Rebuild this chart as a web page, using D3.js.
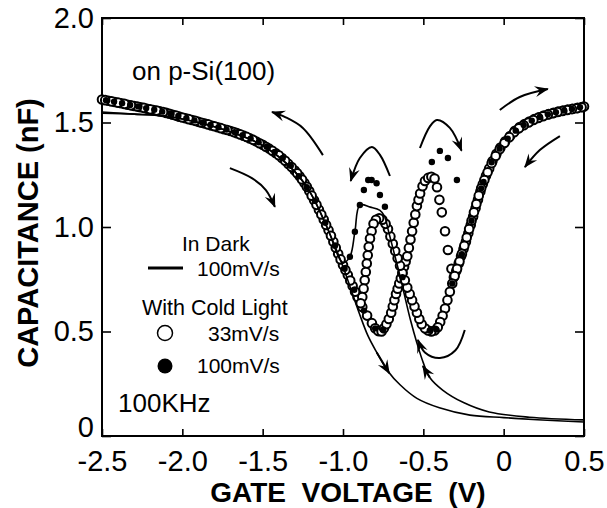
<!DOCTYPE html>
<html>
<head>
<meta charset="utf-8">
<script src="https://cdn.jsdelivr.net/npm/d3@7"></script>
<style>
  body { margin: 0; background: #fff; }
  text { font-family: "Liberation Sans", Arial, sans-serif; fill: #000; }
</style>
</head>
<body>
<div id="chart"></div>
<script>
// tick values and labels
var xTicks = [-2.5, -2.0, -1.5, -1.0, -0.5, 0, 0.5];
var xTickLabels = ["-2.5", "-2.0", "-1.5", "-1.0", "-0.5", "0", "0.5"];
var yTicks = [0, 0.5, 1.0, 1.5, 2.0];
var yTickLabels = ["0", "0.5", "1.0", "1.5", "2.0"];

// with cold light, 33mV/s, forward sweep [V, nF]
var light33Fwd = [
  [-2.50, 1.610], [-2.46, 1.604], [-2.42, 1.598], [-2.38, 1.592], [-2.34, 1.585], [-2.30, 1.579],
  [-2.26, 1.573], [-2.22, 1.566], [-2.18, 1.560], [-2.14, 1.553], [-2.10, 1.546], [-2.06, 1.537],
  [-2.02, 1.528], [-1.98, 1.520], [-1.94, 1.512], [-1.90, 1.503], [-1.86, 1.495], [-1.82, 1.486],
  [-1.78, 1.477], [-1.74, 1.468], [-1.70, 1.459], [-1.66, 1.449], [-1.62, 1.437], [-1.58, 1.424],
  [-1.54, 1.409], [-1.50, 1.393], [-1.46, 1.375], [-1.42, 1.354], [-1.38, 1.330], [-1.34, 1.302],
  [-1.30, 1.270], [-1.27, 1.243], [-1.24, 1.211], [-1.21, 1.172], [-1.18, 1.128], [-1.15, 1.083],
  [-1.12, 1.036], [-1.09, 0.985], [-1.06, 0.930], [-1.03, 0.872], [-1.00, 0.818], [-0.97, 0.770],
  [-0.94, 0.718], [-0.91, 0.665], [-0.88, 0.617], [-0.85, 0.576], [-0.82, 0.540], [-0.80, 0.515],
  [-0.78, 0.502], [-0.76, 0.500], [-0.745, 0.515], [-0.73, 0.535], [-0.715, 0.560], [-0.70, 0.590],
  [-0.69, 0.620], [-0.68, 0.650], [-0.67, 0.680], [-0.66, 0.705], [-0.65, 0.730], [-0.64, 0.755],
  [-0.63, 0.780], [-0.62, 0.810], [-0.61, 0.835], [-0.60, 0.860], [-0.59, 0.900], [-0.58, 0.940],
  [-0.57, 0.980], [-0.56, 1.020], [-0.55, 1.060], [-0.54, 1.100], [-0.53, 1.130], [-0.52, 1.160],
  [-0.505, 1.195], [-0.49, 1.220], [-0.47, 1.235], [-0.45, 1.240], [-0.43, 1.232], [-0.415, 1.190],
  [-0.40, 1.130], [-0.385, 1.070], [-0.365, 0.980], [-0.347, 0.890], [-0.325, 0.800], [-0.31, 0.760],
  [-0.295, 0.790], [-0.28, 0.825], [-0.265, 0.860], [-0.25, 0.895], [-0.235, 0.930], [-0.22, 0.970],
  [-0.205, 1.010], [-0.19, 1.050], [-0.175, 1.090], [-0.16, 1.130], [-0.145, 1.170], [-0.13, 1.205],
  [-0.11, 1.245], [-0.09, 1.280], [-0.07, 1.315], [-0.045, 1.350], [-0.02, 1.380], [0.01, 1.410],
  [0.04, 1.435], [0.07, 1.460], [0.10, 1.478], [0.13, 1.493], [0.16, 1.505], [0.19, 1.516],
  [0.22, 1.525], [0.25, 1.533], [0.28, 1.540], [0.31, 1.546], [0.34, 1.552], [0.37, 1.557],
  [0.40, 1.562], [0.43, 1.566], [0.46, 1.570], [0.49, 1.574], [0.50, 1.576]
];

// with cold light, 33mV/s, reverse sweep [V, nF]
var light33Rev = [
  [0.485, 1.573], [0.455, 1.568], [0.425, 1.564], [0.395, 1.560], [0.365, 1.555], [0.335, 1.550],
  [0.305, 1.544], [0.275, 1.538], [0.245, 1.530], [0.215, 1.522], [0.185, 1.512], [0.155, 1.500],
  [0.125, 1.487], [0.095, 1.472], [0.065, 1.453], [0.035, 1.430], [0.005, 1.402], [-0.025, 1.372],
  [-0.05, 1.340], [-0.075, 1.305], [-0.10, 1.262], [-0.12, 1.225], [-0.14, 1.185], [-0.155, 1.150],
  [-0.17, 1.110], [-0.185, 1.070], [-0.20, 1.030], [-0.215, 0.990], [-0.23, 0.950], [-0.245, 0.910],
  [-0.26, 0.872], [-0.275, 0.835], [-0.29, 0.800], [-0.305, 0.765], [-0.32, 0.730], [-0.335, 0.690],
  [-0.35, 0.650], [-0.365, 0.610], [-0.38, 0.575], [-0.395, 0.545], [-0.41, 0.520], [-0.43, 0.505],
  [-0.45, 0.500], [-0.47, 0.505], [-0.49, 0.515], [-0.51, 0.535], [-0.525, 0.560], [-0.54, 0.590],
  [-0.555, 0.620], [-0.57, 0.650], [-0.585, 0.680], [-0.60, 0.710], [-0.615, 0.745], [-0.63, 0.780],
  [-0.645, 0.815], [-0.66, 0.850], [-0.675, 0.885], [-0.69, 0.920], [-0.705, 0.955], [-0.72, 0.990],
  [-0.735, 1.015], [-0.755, 1.035], [-0.775, 1.042], [-0.795, 1.035], [-0.81, 1.015], [-0.822, 0.980],
  [-0.832, 0.945], [-0.84, 0.905], [-0.846, 0.865], [-0.852, 0.825], [-0.858, 0.785], [-0.865, 0.745],
  [-0.872, 0.705], [-0.88, 0.665], [-0.89, 0.635], [-0.925, 0.690], [-0.955, 0.744], [-0.985, 0.794],
  [-1.015, 0.845], [-1.045, 0.901], [-1.075, 0.958], [-1.105, 1.010], [-1.135, 1.060], [-1.165, 1.106],
  [-1.195, 1.150], [-1.225, 1.192], [-1.255, 1.227], [-1.285, 1.257], [-1.32, 1.287], [-1.36, 1.317],
  [-1.40, 1.343], [-1.44, 1.365], [-1.48, 1.384], [-1.52, 1.401], [-1.56, 1.417], [-1.60, 1.431],
  [-1.64, 1.443], [-1.68, 1.454], [-1.72, 1.464], [-1.76, 1.473], [-1.80, 1.482], [-1.84, 1.491],
  [-1.88, 1.499], [-1.92, 1.508], [-1.96, 1.516], [-2.00, 1.524], [-2.04, 1.533], [-2.08, 1.542],
  [-2.12, 1.550], [-2.16, 1.557], [-2.20, 1.563], [-2.24, 1.570], [-2.28, 1.576], [-2.32, 1.582],
  [-2.36, 1.589], [-2.40, 1.595], [-2.44, 1.601], [-2.48, 1.607]
];

// with cold light, 100mV/s (filled dots) [V, nF]
var light100 = [
  [-2.475, 1.607], [-2.425, 1.600], [-2.375, 1.592], [-2.325, 1.584], [-2.275, 1.577], [-2.225, 1.569],
  [-2.175, 1.561], [-2.125, 1.552], [-2.075, 1.543], [-2.025, 1.531], [-1.975, 1.520], [-1.925, 1.510],
  [-1.875, 1.499], [-1.825, 1.488], [-1.775, 1.477], [-1.725, 1.466], [-1.675, 1.454], [-1.625, 1.439],
  [-1.575, 1.423], [-1.525, 1.405], [-1.475, 1.384], [-1.425, 1.359], [-1.375, 1.330], [-1.325, 1.293],
  [-1.275, 1.243], [-1.225, 1.190], [-1.175, 1.125], [-1.11, 1.020], [-1.05, 0.910], [-0.99, 0.800],
  [-0.93, 0.700], [-0.87, 0.600], [-0.80, 0.515], [-0.75, 0.510], [-0.63, 0.760], [-0.46, 0.505],
  [-0.42, 0.510], [-0.32, 0.730], [-0.26, 0.870], [-0.20, 1.030], [-0.14, 1.185],
  [-0.125, 1.215], [-0.075, 1.310], [-0.025, 1.375], [0.025, 1.423], [0.075, 1.461], [0.125, 1.488],
  [0.175, 1.509], [0.225, 1.526], [0.275, 1.539], [0.325, 1.549], [0.375, 1.557], [0.425, 1.565],
  [0.475, 1.573],
  [-0.957, 0.858], [-0.926, 0.977], [-0.895, 1.105], [-0.870, 1.177], [-0.843, 1.225], [-0.822, 1.225],
  [-0.791, 1.209], [-0.770, 1.153], [-0.739, 1.097],
  [-0.447, 1.311], [-0.397, 1.364], [-0.347, 1.330], [-0.291, 1.225]
];

// in dark, 100mV/s, forward and reverse sweeps [V, nF]
var darkFwd = [
  [-2.50, 1.545], [-2.30, 1.540], [-2.10, 1.530], [-1.90, 1.500], [-1.70, 1.455], [-1.50, 1.390],
  [-1.30, 1.265], [-1.20, 1.160], [-1.10, 1.000], [-1.00, 0.810], [-0.90, 0.590], [-0.845, 0.480],
  [-0.79, 0.400], [-0.72, 0.310], [-0.645, 0.245], [-0.54, 0.180], [-0.40, 0.135], [-0.21, 0.100],
  [0.00, 0.088], [0.21, 0.078], [0.50, 0.067]
];
var darkRev = [
  [0.50, 0.077], [0.16, 0.090], [-0.09, 0.115], [-0.25, 0.160], [-0.38, 0.220], [-0.46, 0.280],
  [-0.50, 0.350], [-0.54, 0.445], [-0.58, 0.555], [-0.61, 0.650], [-0.65, 0.780], [-0.69, 0.900],
  [-0.72, 0.990], [-0.74, 1.050], [-0.77, 1.080], [-0.83, 1.095], [-0.895, 1.105], [-0.926, 0.977],
  [-0.957, 0.858], [-1.00, 0.830], [-1.10, 1.000], [-1.20, 1.160], [-1.30, 1.265], [-1.50, 1.390],
  [-1.70, 1.455], [-1.90, 1.500], [-2.10, 1.530], [-2.30, 1.540], [-2.50, 1.550]
];

// sweep direction arrows [V, nF]
var sweepArrows = [
  [[-1.704, 1.282], [-1.567, 1.234], [-1.48, 1.177], [-1.424, 1.096]],
  [[-1.125, 1.344], [-1.25, 1.474], [-1.36, 1.526], [-1.442, 1.550]],
  [[-0.708, 1.244], [-0.77, 1.345], [-0.82, 1.383], [-0.895, 1.330], [-0.952, 1.220]],
  [[-0.521, 1.378], [-0.46, 1.480], [-0.416, 1.512], [-0.335, 1.474], [-0.262, 1.365]],
  [[-0.024, 1.560], [0.10, 1.622], [0.275, 1.660]],
  [[0.35, 1.435], [0.225, 1.368], [0.132, 1.287]],
  [[-0.242, 0.507], [-0.30, 0.410], [-0.397, 0.373], [-0.49, 0.400], [-0.534, 0.460]],
  [[-0.79, 0.400], [-0.712, 0.300]],
  [[-0.46, 0.280], [-0.503, 0.335]]
];

// set the dimensions and margins of the graph
var margin = { top: 18, right: 23, bottom: 72, left: 102 },
  width = 607 - margin.left - margin.right,
  height = 508 - margin.top - margin.bottom;

var svg = d3.select("#chart")
  .append("svg")
  .attr("width", 607)
  .attr("height", 508)
  .append("g")
  .attr("transform", "translate(" + margin.left + "," + margin.top + ")");

var x = d3.scaleLinear().domain([-2.5, 0.5]).range([0, width]);
var y = d3.scaleLinear().domain([0, 2.0]).range([height, 0]);

// arrowhead marker
svg.append("defs").append("marker")
  .attr("id", "head")
  .attr("markerUnits", "userSpaceOnUse")
  .attr("viewBox", "-14 -6 16 12")
  .attr("markerWidth", 16)
  .attr("markerHeight", 12)
  .attr("refX", 0)
  .attr("refY", 0)
  .attr("orient", "auto")
  .append("path")
  .attr("d", "M1,0 L-13,-5.5 L-8,0 L-13,5.5 Z")
  .attr("fill", "#000");

// axes, ticks pointing inward
function styleAxis(g) {
  g.select(".domain").remove();
  g.selectAll(".tick line").attr("stroke", "#000").attr("stroke-width", 1.6);
  g.selectAll("text").attr("font-family", "'Liberation Sans', Arial, sans-serif").attr("font-size", 29).attr("fill", "#000");
}

svg.append("g")
  .attr("transform", "translate(0," + height + ")")
  .call(d3.axisBottom(x).tickValues(xTicks).tickFormat(function (d, i) { return xTickLabels[i]; })
    .tickSizeInner(-7).tickSizeOuter(0).tickPadding(14))
  .call(styleAxis);

svg.append("g")
  .call(d3.axisLeft(y).tickValues(yTicks).tickFormat(function (d, i) { return yTickLabels[i]; })
    .tickSizeInner(-9).tickSizeOuter(0).tickPadding(8))
  .call(styleAxis)
  .selectAll("text")
  .attr("dy", function (d) { return d === 0 ? "0" : "0.32em"; });

svg.append("g")
  .call(d3.axisTop(x).tickValues(xTicks).tickFormat("").tickSizeInner(-7).tickSizeOuter(0))
  .call(styleAxis);

svg.append("g")
  .attr("transform", "translate(" + width + ",0)")
  .call(d3.axisRight(y).tickValues(yTicks).tickFormat("").tickSizeInner(-9).tickSizeOuter(0))
  .call(styleAxis);

svg.append("rect")
  .attr("width", width)
  .attr("height", height)
  .attr("fill", "none")
  .attr("stroke", "#000")
  .attr("stroke-width", 2);

// open circles, 33mV/s
svg.append("g").selectAll("circle")
  .data(light33Fwd.concat(light33Rev))
  .enter()
  .append("circle")
  .attr("cx", function (d) { return x(d[0]); })
  .attr("cy", function (d) { return y(d[1]); })
  .attr("r", 4.3)
  .attr("fill", "#fff")
  .attr("stroke", "#000")
  .attr("stroke-width", 2);

// filled dots, 100mV/s
svg.append("g").selectAll("circle")
  .data(light100)
  .enter()
  .append("circle")
  .attr("cx", function (d) { return x(d[0]); })
  .attr("cy", function (d) { return y(d[1]); })
  .attr("r", 3.2)
  .attr("fill", "#000");

// dark curves
var line = d3.line()
  .x(function (d) { return x(d[0]); })
  .y(function (d) { return y(d[1]); })
  .curve(d3.curveCatmullRom.alpha(0.5));

[darkFwd, darkRev].forEach(function (s) {
  svg.append("path")
    .attr("d", line(s))
    .attr("fill", "none")
    .attr("stroke", "#000")
    .attr("stroke-width", 1.6);
});

// direction arrows
sweepArrows.forEach(function (a) {
  svg.append("path")
    .attr("d", line(a))
    .attr("fill", "none")
    .attr("stroke", "#000")
    .attr("stroke-width", 2)
    .attr("marker-end", "url(#head)");
});

// axis titles
var root = d3.select("#chart svg");

root.append("text")
  .attr("x", 348)
  .attr("y", 502)
  .attr("text-anchor", "middle")
  .attr("font-size", 28)
  .attr("font-weight", "bold")
  .style("white-space", "pre")
  .text("GATE  VOLTAGE  (V)");

root.append("text")
  .attr("transform", "translate(38,233) rotate(-90)")
  .attr("text-anchor", "middle")
  .attr("font-size", 29)
  .attr("font-weight", "bold")
  .text("CAPACITANCE (nF)");

// labels and legend
root.append("text").attr("x", 132).attr("y", 80).attr("font-size", 26).text("on p-Si(100)");
root.append("text").attr("x", 118).attr("y", 412).attr("font-size", 26).text("100KHz");

root.append("text").attr("x", 182).attr("y", 251).attr("font-size", 21).text("In Dark");
root.append("line")
  .attr("x1", 148).attr("x2", 183).attr("y1", 268).attr("y2", 268)
  .attr("stroke", "#000").attr("stroke-width", 3);
root.append("text").attr("x", 197).attr("y", 276).attr("font-size", 21).text("100mV/s");

root.append("text").attr("x", 142).attr("y", 315).attr("font-size", 21.5).text("With Cold Light");
root.append("circle").attr("cx", 165).attr("cy", 333).attr("r", 7.5)
  .attr("fill", "#fff").attr("stroke", "#000").attr("stroke-width", 1.5);
root.append("text").attr("x", 208).attr("y", 341).attr("font-size", 21).text("33mV/s");
root.append("circle").attr("cx", 165).attr("cy", 366).attr("r", 7.5).attr("fill", "#000");
root.append("text").attr("x", 197).attr("y", 373).attr("font-size", 21).text("100mV/s");
</script>
</body>
</html>
